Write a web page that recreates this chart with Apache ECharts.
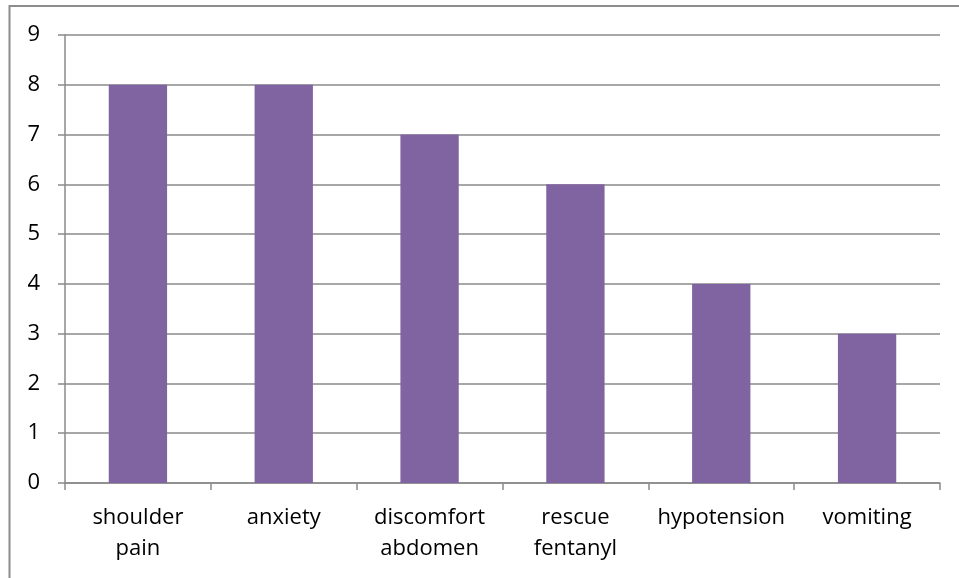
<!DOCTYPE html>
<html>
<head>
<meta charset="utf-8">
<script src="https://cdn.jsdelivr.net/npm/echarts@6/dist/echarts.min.js"></script>
<style>
  html, body { margin: 0; padding: 0; background: #fff; }
  #chart { width: 959px; height: 578px; }
</style>
</head>
<body>
<div id="chart"></div>
<script>
// Reported complications, counts per category
const categories = ['shoulder\npain', 'anxiety', 'discomfort\nabdomen', 'rescue\nfentanyl', 'hypotension', 'vomiting'];
const counts = [8, 8, 7, 6, 4, 3];
const yTicks = { min: 0, max: 9, interval: 1 };

const chart = echarts.init(document.getElementById('chart'), null, { renderer: 'canvas' });
const axisGray = '#8a8a8a';
const font = '"Open Sans", "Liberation Sans", sans-serif';

chart.setOption({
  animation: false,
  backgroundColor: '#fff',
  graphic: [{
    type: 'rect',
    shape: { x: 9.5, y: 6, width: 1200, height: 1200 },
    style: { fill: 'none', stroke: '#8c8c8c', lineWidth: 2 },
    silent: true
  }],
  grid: { left: 65, right: 19, top: 35, bottom: 95 },
  xAxis: {
    type: 'category',
    data: categories,
    axisLine: { lineStyle: { color: axisGray, width: 1.5 } },
    axisTick: { show: true, alignWithLabel: false, interval: 0, length: 7, lineStyle: { color: axisGray, width: 1.5 } },
    axisLabel: { interval: 0, color: '#000', fontFamily: font, fontSize: 22, lineHeight: 31, margin: 19 }
  },
  yAxis: {
    type: 'value',
    min: yTicks.min,
    max: yTicks.max,
    interval: yTicks.interval,
    axisLine: { show: true, lineStyle: { color: axisGray, width: 1.5 } },
    axisTick: { show: true, length: 7, inside: false, lineStyle: { color: axisGray, width: 1.5 } },
    axisLabel: { color: '#000', fontFamily: font, fontSize: 22, margin: 25 },
    splitLine: { show: true, lineStyle: { color: axisGray, width: 1.5 } }
  },
  series: [{
    type: 'bar',
    data: counts,
    barWidth: '40%',
    itemStyle: { color: '#8064A2' }
  }]
});
</script>
</body>
</html>
